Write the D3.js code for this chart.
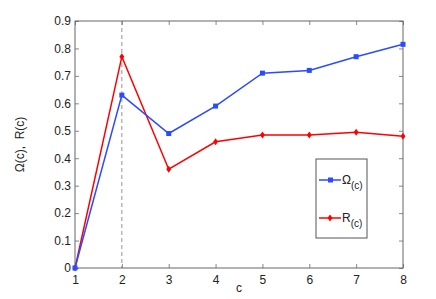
<!doctype html>
<html>
<head>
<meta charset="utf-8">
<style>
    body { margin: 0; background: white; }
    text { font-family: "Liberation Sans", Arial, sans-serif; fill: #222; }
    .tick text { font-size: 12px; }
    .frame { fill: none; stroke: #666; stroke-width: 1; }
</style>
</head>
<body>
<script src="https://cdn.jsdelivr.net/npm/d3@7/dist/d3.min.js"></script>
<script>
    const cValues = [1, 2, 3, 4, 5, 6, 7, 8];
    const omega = [0, 0.63, 0.49, 0.59, 0.71, 0.72, 0.77, 0.815];
    const rValues = [0, 0.77, 0.36, 0.46, 0.485, 0.485, 0.495, 0.48];
    const yTicks = [0, 0.1, 0.2, 0.3, 0.4, 0.5, 0.6, 0.7, 0.8, 0.9];
    const markedC = 2;

    const width = 436, height = 299;
    const plotLeft = 75, plotRight = 403, plotTop = 21, plotBottom = 268;

    const svg = d3.select("body").append("svg")
        .attr("width", width)
        .attr("height", height);

    const x = d3.scaleLinear().domain([1, 8]).range([plotLeft, plotRight]);
    const y = d3.scaleLinear().domain([0, 0.9]).range([plotBottom, plotTop]);

    const fmt = d => d === 0 ? "0" : d3.format(".1f")(d);

    // axes with inward ticks
    const xAxis = svg.append("g")
        .attr("transform", `translate(0,${plotBottom})`)
        .call(d3.axisBottom(x).tickValues(cValues).tickSize(-4).tickPadding(7).tickFormat(d3.format("d")));
    const xTop = svg.append("g")
        .attr("transform", `translate(0,${plotTop})`)
        .call(d3.axisTop(x).tickValues(cValues).tickSize(-4).tickFormat(""));
    const yAxis = svg.append("g")
        .attr("transform", `translate(${plotLeft},0)`)
        .call(d3.axisLeft(y).tickValues(yTicks).tickSize(-4).tickPadding(4).tickFormat(fmt));
    const yRight = svg.append("g")
        .attr("transform", `translate(${plotRight},0)`)
        .call(d3.axisRight(y).tickValues(yTicks).tickSize(-4).tickFormat(""));

    [xAxis, xTop, yAxis, yRight].forEach(a => {
        a.select(".domain").remove();
        a.selectAll(".tick line").attr("stroke", "#888");
    });
    xAxis.selectAll(".tick text").attr("fill", "#222");
    yAxis.selectAll(".tick text").attr("fill", "#222");

    svg.append("rect")
        .attr("class", "frame")
        .attr("x", plotLeft)
        .attr("y", plotTop)
        .attr("width", plotRight - plotLeft)
        .attr("height", plotBottom - plotTop);

    // dashed marker line
    svg.append("line")
        .attr("x1", x(markedC)).attr("x2", x(markedC))
        .attr("y1", plotTop).attr("y2", plotBottom)
        .attr("stroke", "#777")
        .attr("stroke-dasharray", "4,3")
        .attr("stroke-width", 0.8);

    const line = d3.line().x((d, i) => x(cValues[i])).y(d => y(d));

    function diamond(g, cx, cy, s, colour) {
        g.append("path")
            .attr("d", `M${cx} ${cy - s} L${cx + s * 0.7} ${cy} L${cx} ${cy + s} L${cx - s * 0.7} ${cy} Z`)
            .attr("fill", colour);
    }

    // R series
    svg.append("path")
        .datum(rValues)
        .attr("d", line)
        .attr("fill", "none")
        .attr("stroke", "#ff0000")
        .attr("stroke-width", 1.5);
    const rMarks = svg.append("g");
    rValues.forEach((v, i) => diamond(rMarks, x(cValues[i]), y(v), 3.5, "#ff0000"));

    // Omega series
    svg.append("path")
        .datum(omega)
        .attr("d", line)
        .attr("fill", "none")
        .attr("stroke", "#2a4bff")
        .attr("stroke-width", 1.5);
    svg.append("g").selectAll("rect")
        .data(omega)
        .join("rect")
        .attr("x", (d, i) => x(cValues[i]) - 2.5)
        .attr("y", d => y(d) - 2.5)
        .attr("width", 5)
        .attr("height", 5)
        .attr("fill", "#2a4bff");

    // legend
    const legend = svg.append("g");
    legend.append("rect")
        .attr("x", 316).attr("y", 159)
        .attr("width", 51).attr("height", 79)
        .attr("fill", "white")
        .attr("stroke", "#555");
    const entries = [
        { name: "Ω", colour: "#2a4bff", ly: 180, square: true },
        { name: "R", colour: "#ff0000", ly: 218, square: false }
    ];
    entries.forEach(e => {
        legend.append("line")
            .attr("x1", 319).attr("x2", 341)
            .attr("y1", e.ly).attr("y2", e.ly)
            .attr("stroke", e.colour)
            .attr("stroke-width", 1.5);
        if (e.square) {
            legend.append("rect")
                .attr("x", 328).attr("y", e.ly - 2.5)
                .attr("width", 5).attr("height", 5)
                .attr("fill", e.colour);
        } else {
            diamond(legend, 330, e.ly, 3.5, e.colour);
        }
        const t = legend.append("text")
            .attr("x", 342)
            .attr("y", e.ly + 4)
            .attr("font-size", 12);
        t.append("tspan").text(e.name);
        t.append("tspan").attr("dy", 5).attr("font-size", 10).text("(c)");
    });

    // axis labels
    svg.append("text")
        .attr("x", (plotLeft + plotRight) / 2)
        .attr("y", 292)
        .attr("text-anchor", "middle")
        .attr("font-size", 12)
        .text("c");
    svg.append("text")
        .attr("transform", `translate(24,${(plotTop + plotBottom) / 2}) rotate(-90)`)
        .attr("text-anchor", "middle")
        .attr("font-size", 12)
        .attr("xml:space", "preserve")
        .text("Ω(c),  R(c)");
</script>
</body>
</html>
